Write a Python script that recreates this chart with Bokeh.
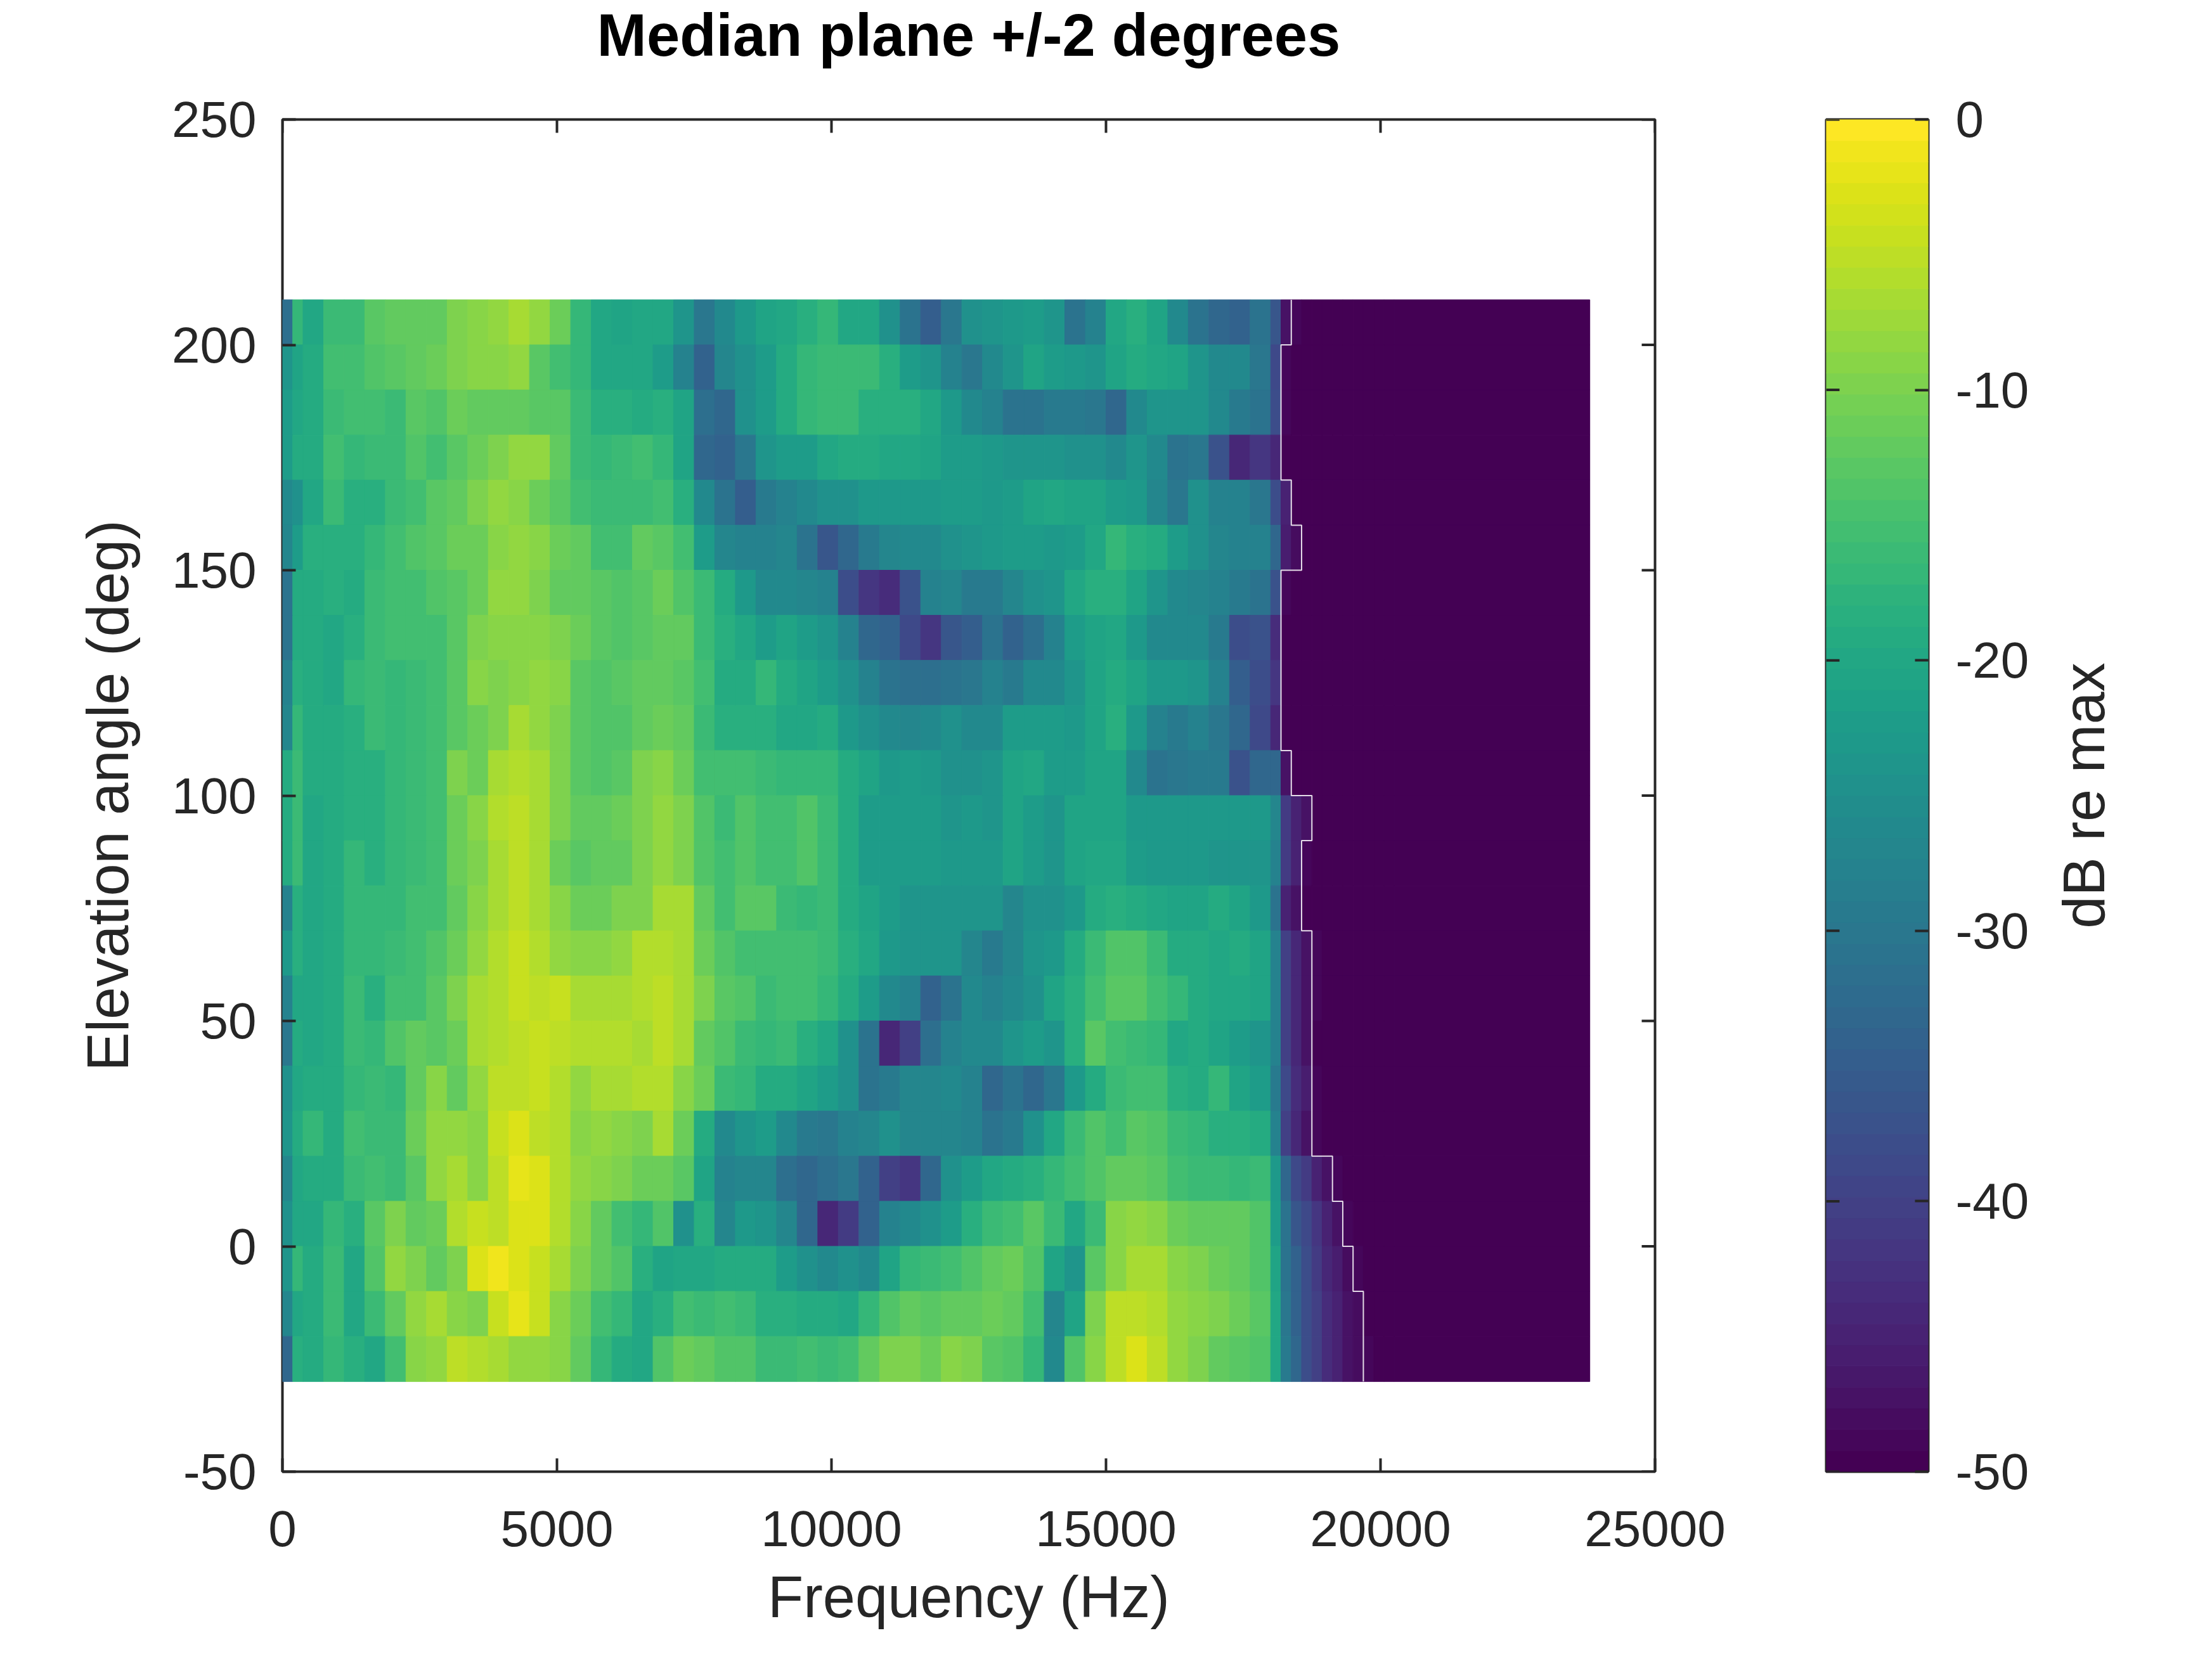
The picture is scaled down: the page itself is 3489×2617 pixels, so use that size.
import numpy as np
from bokeh.plotting import figure
from bokeh.models import (ColumnDataSource, LinearColorMapper, FixedTicker,
                          NumeralTickFormatter, Range1d)
from bokeh.layouts import row, column
from bokeh.palettes import viridis
from bokeh.embed import file_html
from bokeh.resources import INLINE

# ---------------- texts / ticks ----------------
title_text = "Median plane +/-2 degrees"
x_label = "Frequency (Hz)"
y_label = "Elevation angle (deg)"
cbar_label = "dB re max"
x_ticks = [0, 5000, 10000, 15000, 20000, 25000]
y_ticks = [-50, 0, 50, 100, 150, 200, 250]
cbar_ticks = [-50, -40, -30, -20, -10, 0]

# ---------------- grid description ----------------
elevation_centers = [205, 195, 185, 175, 165, 155, 145, 135, 125, 115, 105, 95,
                     85, 75, 65, 55, 45, 35, 25, 15, 5, -5, -15, -25]
row_height = 10.0
bin_hz = 187.5       # FFT bin width
n_main = 48          # first bin alone, then 187.5..18000 Hz in 375 Hz columns (first of them half)
main_width = 375.0
n_tail = 12          # 187.5 Hz columns, 18000 .. 20250 Hz
tail_width = 187.5
last_edge = 23812.5  # end of the measured spectrum
floor_db = -50       # level of everything above the tail
db_low, db_high = -50, 0

# dB of the lowest bin (0..187.5 Hz), one per elevation row
db_first_bin = [-32, -24, -22, -22, -26, -27, -31, -31, -28, -27, -19, -19,
                -19, -28, -23, -28, -30, -25, -24, -27, -25, -24, -27, -33]

# ---------------- dB values (48 main + 12 tail) ----------------
db_205 = [-17,-20,-16,-16,-13,-12,-12,-12,-10,-9,-8,-7,-8,-11,-17,-20,-21,-20,
          -20,-24,-30,-26,-23,-21,-20,-18,-17,-20,-20,-25,-31,-35,-30,-25,-24,-23,
          -22,-24,-31,-28,-20,-18,-21,-26,-31,-33,-34,-31,
          -36,-47,-49,-50,-50,-50,-50,-50,-50,-50,-50,-50]
db_195 = [-21,-19,-15,-15,-14,-13,-12,-11,-10,-9,-9,-8,-13,-15,-17,-20,-20,-20,
          -22,-28,-34,-27,-25,-22,-19,-17,-16,-16,-16,-18,-22,-24,-28,-30,-26,-24,
          -21,-22,-23,-24,-21,-19,-20,-21,-24,-26,-26,-30,
          -39,-49,-50,-50,-50,-50,-50,-50,-50,-50,-50,-50]
db_185 = [-20,-19,-16,-15,-15,-16,-13,-14,-11,-12,-12,-12,-13,-13,-16,-18,-18,-19,
          -18,-21,-32,-33,-25,-22,-19,-17,-16,-16,-18,-18,-18,-20,-23,-26,-28,-31,
          -31,-29,-29,-30,-33,-26,-24,-24,-24,-26,-29,-31,
          -38,-49,-50,-50,-50,-50,-50,-50,-50,-50,-50,-50]
db_175 = [-19,-19,-15,-17,-16,-16,-14,-15,-13,-11,-10,-8,-8,-12,-16,-17,-16,-15,
          -17,-21,-33,-34,-30,-24,-22,-22,-20,-19,-19,-20,-20,-21,-22,-22,-23,-24,
          -24,-24,-25,-25,-26,-24,-26,-31,-30,-37,-44,-42,
          -44,-50,-50,-50,-50,-50,-50,-50,-50,-50,-50,-50]
db_165 = [-25,-20,-16,-18,-18,-16,-15,-13,-12,-10,-8,-9,-11,-13,-15,-16,-16,-16,
          -15,-18,-26,-31,-35,-29,-28,-26,-25,-25,-23,-23,-23,-23,-22,-22,-23,-22,
          -21,-20,-21,-21,-22,-23,-27,-30,-25,-28,-28,-30,
          -38,-45,-50,-50,-50,-50,-50,-50,-50,-50,-50,-50]
db_155 = [-22,-18,-18,-18,-17,-15,-14,-13,-11,-11,-9,-8,-9,-11,-12,-15,-15,-12,
          -13,-15,-22,-27,-28,-28,-27,-31,-36,-33,-29,-27,-26,-26,-25,-24,-23,-22,
          -22,-23,-22,-20,-17,-18,-19,-22,-25,-27,-28,-28,
          -33,-46,-48,-50,-50,-50,-50,-50,-50,-50,-50,-50]
db_145 = [-19,-19,-18,-19,-16,-15,-15,-14,-13,-11,-8,-8,-10,-12,-12,-13,-14,-13,
          -11,-14,-16,-19,-23,-26,-26,-27,-28,-38,-42,-43,-37,-28,-27,-29,-29,-27,
          -25,-24,-20,-18,-18,-21,-24,-26,-27,-28,-29,-31,
          -37,-49,-50,-50,-50,-50,-50,-50,-50,-50,-50,-50]
db_135 = [-19,-19,-20,-18,-16,-15,-15,-15,-13,-10,-9,-9,-9,-10,-11,-13,-14,-13,
          -12,-12,-16,-18,-20,-22,-21,-22,-24,-28,-33,-34,-39,-42,-36,-35,-31,-34,
          -32,-28,-22,-21,-20,-23,-26,-26,-26,-29,-38,-37,
          -43,-50,-50,-50,-50,-50,-50,-50,-50,-50,-50,-50]
db_125 = [-18,-19,-20,-17,-16,-17,-16,-15,-13,-9,-10,-9,-8,-9,-13,-14,-13,-12,
          -12,-13,-15,-19,-19,-17,-19,-21,-22,-25,-28,-31,-32,-32,-31,-30,-28,-29,
          -26,-26,-24,-21,-19,-21,-23,-23,-24,-28,-35,-38,
          -42,-50,-50,-50,-50,-50,-50,-50,-50,-50,-50,-50]
db_115 = [-17,-19,-19,-18,-16,-17,-16,-15,-13,-11,-10,-7,-8,-10,-13,-14,-14,-12,
          -11,-12,-16,-18,-18,-18,-20,-20,-19,-23,-25,-26,-27,-26,-25,-26,-26,-22,
          -22,-22,-23,-21,-18,-23,-28,-29,-28,-30,-33,-39,
          -44,-50,-50,-50,-50,-50,-50,-50,-50,-50,-50,-50]
db_105 = [-16,-19,-19,-18,-18,-17,-16,-15,-10,-11,-7,-6,-7,-10,-13,-14,-13,-10,
          -9,-11,-15,-15,-15,-16,-17,-17,-17,-19,-21,-23,-22,-23,-25,-25,-24,-21,
          -20,-22,-22,-21,-21,-26,-31,-30,-29,-29,-37,-33,
          -33,-47,-50,-50,-50,-50,-50,-50,-50,-50,-50,-50]
db_95 = [-16,-20,-19,-18,-18,-17,-16,-15,-11,-9,-6,-5,-7,-10,-12,-12,-11,-10,
         -8,-10,-14,-16,-14,-15,-15,-14,-16,-19,-22,-22,-22,-22,-24,-23,-24,-21,
         -22,-24,-21,-21,-21,-23,-23,-23,-23,-23,-23,-23,
         -27,-41,-45,-47,-50,-50,-50,-50,-50,-50,-50,-50]
db_85 = [-16,-20,-19,-17,-18,-17,-16,-15,-11,-10,-7,-5,-7,-11,-13,-12,-12,-10,
         -8,-10,-14,-15,-14,-15,-15,-14,-16,-19,-22,-22,-22,-22,-23,-23,-23,-21,
         -22,-24,-21,-20,-20,-22,-23,-23,-23,-24,-24,-24,
         -28,-41,-45,-49,-50,-50,-50,-50,-50,-50,-50,-50]
db_75 = [-18,-20,-19,-17,-17,-17,-15,-15,-12,-9,-7,-5,-7,-9,-11,-11,-10,-10,
         -7,-7,-12,-15,-13,-13,-16,-17,-16,-19,-21,-22,-24,-24,-24,-24,-24,-27,
         -25,-25,-23,-19,-18,-19,-20,-21,-21,-19,-21,-23,
         -31,-45,-47,-50,-50,-50,-50,-50,-50,-50,-50,-50]
db_65 = [-18,-20,-19,-17,-17,-16,-15,-14,-11,-8,-6,-4,-6,-8,-9,-9,-8,-6,
         -6,-7,-11,-14,-15,-15,-15,-15,-16,-18,-20,-23,-24,-24,-24,-27,-29,-27,
         -24,-23,-19,-16,-14,-14,-16,-19,-19,-20,-19,-21,
         -28,-40,-44,-47,-49,-50,-50,-50,-50,-50,-50,-50]
db_55 = [-20,-20,-19,-16,-18,-15,-15,-13,-10,-7,-6,-4,-5,-4,-7,-7,-7,-6,
         -5,-7,-10,-13,-14,-16,-15,-15,-17,-19,-22,-26,-28,-34,-31,-26,-28,-26,
         -25,-21,-18,-15,-13,-13,-15,-17,-19,-20,-20,-21,
         -28,-40,-44,-47,-49,-50,-50,-50,-50,-50,-50,-50]
db_45 = [-19,-20,-19,-16,-17,-14,-12,-13,-11,-7,-6,-5,-4,-5,-6,-6,-6,-7,
         -5,-7,-12,-14,-16,-17,-16,-18,-20,-25,-31,-44,-40,-32,-28,-26,-26,-24,
         -22,-24,-18,-13,-15,-16,-17,-20,-19,-21,-22,-24,
         -28,-40,-44,-47,-50,-50,-50,-50,-50,-50,-50,-50]
db_35 = [-20,-19,-19,-17,-16,-17,-12,-9,-12,-8,-5,-5,-4,-6,-8,-7,-7,-6,
         -6,-9,-11,-16,-17,-19,-19,-21,-22,-25,-31,-29,-27,-27,-26,-28,-33,-31,
         -33,-30,-23,-19,-16,-15,-15,-18,-19,-17,-21,-22,
         -29,-39,-43,-46,-49,-50,-50,-50,-50,-50,-50,-50]
db_25 = [-19,-17,-19,-15,-16,-16,-11,-8,-8,-9,-4,-3,-5,-6,-9,-8,-9,-10,
         -7,-11,-19,-26,-24,-22,-26,-29,-30,-28,-27,-25,-27,-27,-27,-28,-31,-29,
         -25,-20,-16,-14,-15,-13,-14,-16,-17,-18,-18,-19,
         -28,-40,-44,-47,-49,-50,-50,-50,-50,-50,-50,-50]
db_15 = [-20,-19,-19,-16,-15,-16,-13,-8,-7,-9,-5,-2,-3,-6,-8,-9,-10,-11,
         -11,-13,-21,-28,-27,-27,-32,-33,-32,-30,-34,-40,-42,-33,-25,-22,-20,-19,
         -18,-17,-15,-14,-12,-12,-13,-15,-16,-16,-17,-16,
         -23,-33,-39,-41,-45,-47,-49,-50,-50,-50,-50,-50]
db_5 = [-20,-20,-17,-18,-13,-10,-12,-11,-6,-4,-5,-3,-3,-6,-9,-12,-15,-17,
        -14,-25,-18,-27,-23,-24,-27,-33,-44,-41,-34,-28,-26,-25,-22,-18,-16,-15,
        -13,-16,-20,-16,-9,-8,-9,-11,-12,-12,-12,-14,
        -22,-31,-36,-39,-42,-45,-47,-49,-50,-50,-50,-50]
db_m5 = [-17,-19,-16,-20,-14,-8,-10,-12,-10,-3,-1,-3,-4,-7,-10,-12,-14,-18,
         -21,-20,-20,-19,-19,-19,-22,-25,-26,-25,-26,-21,-17,-16,-15,-14,-12,-11,
         -14,-21,-24,-13,-9,-7,-7,-9,-10,-11,-12,-14,
         -21,-31,-34,-38,-41,-44,-46,-48,-49,-50,-50,-50]
db_m15 = [-20,-19,-16,-20,-16,-12,-8,-7,-9,-10,-4,-2,-4,-9,-11,-15,-17,-20,
          -18,-15,-16,-15,-16,-18,-18,-19,-19,-20,-17,-14,-12,-13,-12,-12,-11,-12,
          -15,-27,-21,-10,-5,-5,-6,-8,-9,-10,-11,-13,
          -20,-30,-34,-38,-40,-43,-45,-47,-48,-50,-50,-50]
db_m25 = [-18,-19,-17,-18,-20,-15,-9,-8,-5,-6,-7,-8,-8,-9,-12,-17,-19,-20,
          -14,-11,-12,-14,-14,-16,-16,-15,-16,-15,-12,-10,-10,-11,-9,-10,-13,-14,
          -17,-26,-14,-9,-5,-3,-5,-8,-10,-12,-13,-14,
          -20,-29,-33,-38,-40,-43,-45,-47,-48,-49,-50,-50]

rows_db = [db_205, db_195, db_185, db_175, db_165, db_155, db_145, db_135,
           db_125, db_115, db_105, db_95, db_85, db_75, db_65, db_55,
           db_45, db_35, db_25, db_15, db_5, db_m5, db_m15, db_m25]

# ---------------- style ----------------
FONT = "Liberation Sans"
INK = "#262626"
palette = viridis(64)
mapper = LinearColorMapper(palette=palette, low=db_low, high=db_high)
TICK_PX = 21
FRAME_W, FRAME_H = 2165, 2133
X_MAX, Y_MIN, Y_MAX = 25000, -50, 250
LEFT_BORDER, RIGHT_BORDER = 445, 132
TITLE_H = 129
TOP_BORDER, BOTTOM_BORDER = 188 - TITLE_H, 269

# ---------------- build cells ----------------
main_edges = [0.0, bin_hz] + [i * main_width for i in range(1, n_main + 1)]
tail_edges = [main_edges[-1] + j * tail_width for j in range(n_tail + 1)]
col_left = main_edges[:-1] + tail_edges[:-1] + [tail_edges[-1]]
col_right = main_edges[1:] + tail_edges[1:] + [last_edge]

L, R, B, T, V = [], [], [], [], []
edge_x, edge_y = [], []
for el, first, vals in zip(elevation_centers, db_first_bin, rows_db):
    full = [first] + list(vals) + [floor_db]
    bot, top = el - row_height / 2, el + row_height / 2
    for lft, rgt, v in zip(col_left, col_right, full):
        L.append(lft); R.append(rgt); B.append(bot); T.append(top); V.append(v)
    # white seam where the spectrum falls to the floor
    tail = vals[n_main:]
    k = next(i for i, v in enumerate(tail) if v <= floor_db + 1)
    xb = tail_edges[k]
    edge_x += [xb, xb]
    edge_y += [top, bot]
src = ColumnDataSource(dict(left=L, right=R, bottom=B, top=T, db=V))

# ---------------- title strip ----------------
tf = figure(width=LEFT_BORDER + FRAME_W + RIGHT_BORDER, height=TITLE_H,
            x_range=Range1d(0, 1), y_range=Range1d(0, 1),
            output_backend="svg", toolbar_location=None,
            x_axis_location=None, y_axis_location=None,
            min_border_left=LEFT_BORDER, min_border_right=RIGHT_BORDER,
            min_border_top=0, min_border_bottom=0, title=title_text)
tf.outline_line_color = None
tf.xgrid.visible = False
tf.ygrid.visible = False
tf.background_fill_color = "white"
tf.border_fill_color = "white"
tf.title.text_font = FONT
tf.title.text_font_size = "94px"
tf.title.text_font_style = "bold"
tf.title.text_color = "#000000"
tf.title.align = "center"
tf.title.vertical_align = "top"
tf.title.standoff = 4

# ---------------- main figure ----------------
p = figure(frame_width=FRAME_W, frame_height=FRAME_H,
           x_range=Range1d(0, X_MAX), y_range=Range1d(Y_MIN, Y_MAX),
           output_backend="svg", toolbar_location=None,
           min_border_left=LEFT_BORDER, min_border_right=RIGHT_BORDER,
           min_border_top=TOP_BORDER, min_border_bottom=BOTTOM_BORDER)
p.quad(left="left", right="right", bottom="bottom", top="top", source=src,
       fill_color={"field": "db", "transform": mapper},
       line_color={"field": "db", "transform": mapper}, line_width=1)
p.line(edge_x, edge_y, line_color="white", line_width=2, line_alpha=0.85)

p.xgrid.visible = False
p.ygrid.visible = False
p.background_fill_color = "white"
p.border_fill_color = "white"
p.outline_line_color = INK
p.outline_line_width = 4


def style_axis(ax, ticks, standoff):
    ax.ticker = FixedTicker(ticks=ticks)
    ax.formatter = NumeralTickFormatter(format="0")
    ax.major_tick_in = TICK_PX
    ax.major_tick_out = 0
    ax.major_tick_line_width = 4
    ax.major_tick_line_color = INK
    ax.minor_tick_line_color = None
    ax.axis_line_color = None
    ax.major_label_text_font = FONT
    ax.major_label_text_color = INK
    ax.major_label_text_font_size = "80px"
    ax.major_label_standoff = standoff
    ax.axis_label_text_font = FONT
    ax.axis_label_text_font_size = "92px"
    ax.axis_label_text_font_style = "normal"
    ax.axis_label_text_color = INK


xa = p.xaxis[0]
ya = p.yaxis[0]
style_axis(xa, x_ticks, 62)
style_axis(ya, y_ticks, 41)
xa.axis_label = x_label
ya.axis_label = y_label
xa.axis_label_standoff = 26
ya.axis_label_standoff = 47

# mirrored inward ticks on the top and right edges of the box
dy_tick = TICK_PX * (Y_MAX - Y_MIN) / FRAME_H
dx_tick = TICK_PX * X_MAX / FRAME_W
p.segment(x0=x_ticks, y0=[Y_MAX] * len(x_ticks), x1=x_ticks,
          y1=[Y_MAX - dy_tick] * len(x_ticks), line_color=INK, line_width=4)
p.segment(x0=[X_MAX] * len(y_ticks), y0=y_ticks, x1=[X_MAX - dx_tick] * len(y_ticks),
          y1=y_ticks, line_color=INK, line_width=4)

# ---------------- colour bar figure ----------------
CB_W = 161
levels = np.linspace(db_low, db_high, len(palette) + 1)
cb_src = ColumnDataSource(dict(bottom=levels[:-1], top=levels[1:], color=list(palette)))
cb = figure(frame_width=CB_W, frame_height=FRAME_H,
            x_range=Range1d(0, 1), y_range=Range1d(db_low, db_high),
            output_backend="svg", toolbar_location=None,
            x_axis_location=None, y_axis_location="right",
            min_border_left=138, min_border_right=166,
            min_border_top=TOP_BORDER, min_border_bottom=BOTTOM_BORDER)
cb.quad(left=0, right=1, bottom="bottom", top="top", color="color",
        line_width=1, source=cb_src)
cb.segment(x0=[0] * len(cbar_ticks), y0=cbar_ticks,
           x1=[TICK_PX / CB_W] * len(cbar_ticks), y1=cbar_ticks,
           line_color=INK, line_width=4)
cb.xgrid.visible = False
cb.ygrid.visible = False
cb.outline_line_color = INK
cb.outline_line_width = 4
cb.background_fill_color = "white"
cb.border_fill_color = "white"
style_axis(cb.yaxis[0], cbar_ticks, 43)

# ---------------- colour bar label (left axis label of a slim panel) ----------------
lab = figure(frame_width=10, frame_height=FRAME_H,
             x_range=Range1d(0, 1), y_range=Range1d(db_low, db_high),
             output_backend="svg", toolbar_location=None,
             x_axis_location=None, y_axis_location="left",
             min_border_left=130, min_border_right=0,
             min_border_top=TOP_BORDER, min_border_bottom=BOTTOM_BORDER)
lab.outline_line_color = None
lab.xgrid.visible = False
lab.ygrid.visible = False
lab.background_fill_color = "white"
lab.border_fill_color = "white"
la = lab.yaxis[0]
la.ticker = FixedTicker(ticks=[])
la.axis_line_color = None
la.major_tick_line_color = None
la.minor_tick_line_color = None
la.major_tick_in = 0
la.major_tick_out = 0
la.major_label_standoff = 0
la.axis_label = cbar_label
la.axis_label_standoff = 0
la.axis_label_text_font = FONT
la.axis_label_text_font_size = "92px"
la.axis_label_text_font_style = "normal"
la.axis_label_text_color = INK

layout = column(tf, row(p, cb, lab))
open("out.html", "w").write(file_html(layout, INLINE))
